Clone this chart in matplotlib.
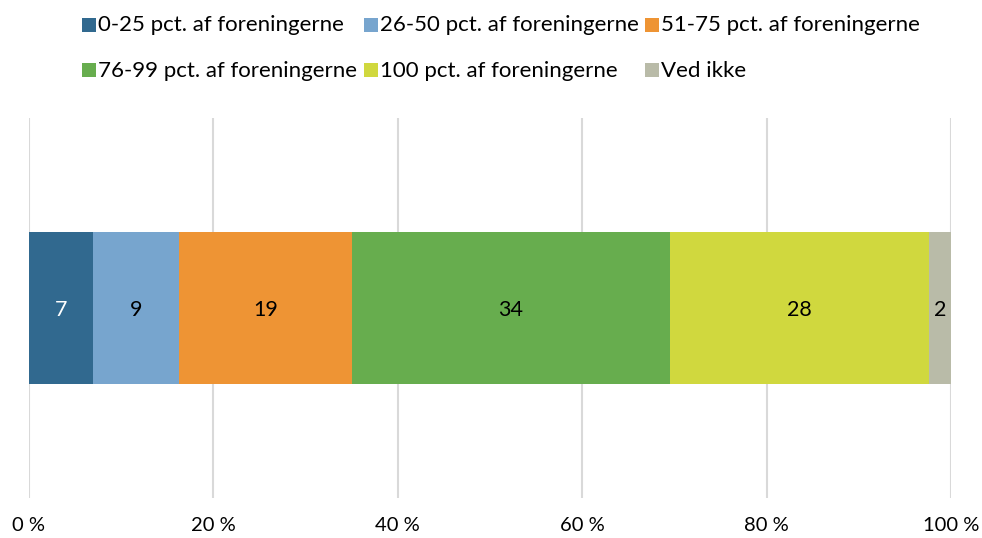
import matplotlib.pyplot as plt
from matplotlib.patches import Rectangle

# Andel af foreningerne, procent (summerer til 100)
categories = [
    "0-25 pct. af foreningerne",
    "26-50 pct. af foreningerne",
    "51-75 pct. af foreningerne",
    "76-99 pct. af foreningerne",
    "100 pct. af foreningerne",
    "Ved ikke",
]
shares = [6.9, 9.4, 18.7, 34.5, 28.1, 2.4]
colors = ["#31698F", "#77A5CE", "#EE9434", "#67AD4E", "#D0D83E", "#B9BBA8"]
label_colors = ["white", "black", "black", "black", "black", "black"]
x_ticks = [0, 20, 40, 60, 80, 100]

plt.rcParams["font.family"] = ["Lato", "DejaVu Sans"]

W, H = 982, 538
fig = plt.figure(figsize=(W / 100, H / 100), dpi=100)
ax = fig.add_axes([29 / W, 1 - 498 / H, 922 / W, 380 / H])

left = 0
for val, col, tcol in zip(shares, colors, label_colors):
    ax.barh(0, val, left=left, height=0.4, color=col, zorder=3)
    ax.text(left + val / 2, 0, f"{val:.0f}", ha="center", va="center_baseline",
            color=tcol, fontsize=15.5, zorder=4)
    left += val

ax.set_xlim(0, 100)
ax.set_ylim(-0.5, 0.5)
ax.set_xticks(x_ticks)
ax.set_xticklabels([f"{t} %" for t in x_ticks], fontsize=14.5)
ax.set_yticks([])
ax.xaxis.grid(True, color="#D9D9D9", linewidth=1.5, zorder=0)
ax.tick_params(axis="x", length=0, pad=14)
for s in ax.spines.values():
    s.set_visible(False)

# legend: 3 columns x 2 rows, filled row by row
for i, (name, col) in enumerate(zip(categories, colors)):
    row, c = divmod(i, 3)
    x0 = 82 + c * 281.5
    yc = 25 + row * 45.5
    fig.patches.append(Rectangle((x0 / W, 1 - (yc + 7) / H), 14 / W, 14 / H,
                                 transform=fig.transFigure, facecolor=col,
                                 edgecolor="none"))
    fig.text((x0 + 16) / W, 1 - yc / H, name, ha="left", va="center",
             fontsize=16)

fig.savefig("out.png", dpi=100)
